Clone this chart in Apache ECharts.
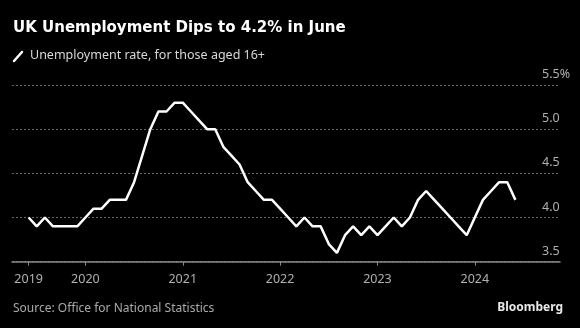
<!DOCTYPE html>
<html>
<head>
<meta charset="utf-8">
<script src="https://cdn.jsdelivr.net/npm/echarts@6/dist/echarts.min.js"></script>
<style>
html,body{margin:0;padding:0;background:#000;}
#chart{width:580px;height:328px;}
</style>
</head>
<body>
<div id="chart"></div>
<script>
// Monthly rolling unemployment rate, Jun 2019 .. Jun 2024
const startMonthIndex = 5; // months since Jan 2019 (June 2019)
const rates = [
  4.0,3.9,4.0,3.9,3.9,3.9,3.9,
  4.0,4.1,4.1,4.2,4.2,4.2,
  4.4,4.7,5.0,5.2,5.2,5.3,5.3,
  5.2,5.1,5.0,5.0,
  4.8,4.7,4.6,4.4,4.3,4.2,4.2,
  4.1,4.0,3.9,4.0,3.9,3.9,
  3.7,3.6,3.8,3.9,3.8,3.9,3.8,3.9,4.0,3.9,
  4.0,4.2,4.3,4.2,4.1,4.0,3.9,3.8,
  4.0,4.2,4.3,4.4,4.4,4.2
];
const tickMonths = [5, 12, 24, 36, 48, 60];
const tickLabels = ['2019', '2020', '2021', '2022', '2023', '2024'];
const yTicks = [3.5, 4.0, 4.5, 5.0, 5.5];

const seriesData = rates.map((v, i) => [startMonthIndex + i, v]);
const labelMap = {};
tickMonths.forEach((m, i) => { labelMap[m] = tickLabels[i]; });

const chart = echarts.init(document.getElementById('chart'), null, {renderer: 'canvas'});
const FONT = 'Noto Sans';
chart.setOption({
  backgroundColor: '#000',
  animation: false,
  grid: {left: 12, right: 20, top: 85, bottom: 66.3, containLabel: false},
  graphic: [
    {type: 'text', style: {x: 13, y: 28, verticalAlign: 'middle', text: 'UK Unemployment Dips to 4.2% in June', fill: '#fff', font: 'bold 15px "DejaVu Sans"'}},
    {type: 'line', shape: {x1: 14, y1: 61, x2: 22, y2: 52}, style: {stroke: '#fff', lineWidth: 2.5, lineCap: 'round'}},
    {type: 'text', style: {x: 30, y: 55, verticalAlign: 'middle', text: 'Unemployment rate, for those aged 16+', fill: '#d8d8d8', font: '12.5px "Noto Sans"'}},
    {type: 'text', style: {x: 13, y: 308.5, verticalAlign: 'middle', text: 'Source: Office for National Statistics', fill: '#aaaaaa', font: '12px "Noto Sans"'}},
    {type: 'text', style: {x: 563, y: 308, align: 'right', verticalAlign: 'middle', text: 'Bloomberg', fill: '#e8e8e8', font: 'bold 12px "Noto Sans"'}}
  ],
  xAxis: {
    type: 'value',
    min: 2.95,
    max: 70.5,
    axisLine: {show: true, lineStyle: {color: '#8a8a8a', width: 1.5}},
    axisTick: {show: true, customValues: tickMonths, length: 4, lineStyle: {color: '#8a8a8a'}},
    axisLabel: {
      customValues: tickMonths,
      formatter: v => labelMap[v] || '',
      color: '#b0b0b0', fontFamily: FONT, fontSize: 12.5, margin: 11
    },
    splitLine: {show: false}
  },
  yAxis: {
    type: 'value',
    position: 'right',
    min: 3.5, max: 5.5, interval: 0.5,
    axisLine: {show: false},
    axisTick: {show: false},
    axisLabel: {
      formatter: v => v === 5.5 ? '5.5%' : v.toFixed(1),
      color: '#b0b0b0', fontFamily: FONT, fontSize: 12.5,
      margin: -18, align: 'left', verticalAlign: 'bottom', padding: [0, 0, 4, 0]
    },
    splitLine: {show: true, lineStyle: {color: '#666', type: [2, 2], width: 1}}
  },
  series: [{
    type: 'line',
    data: seriesData,
    showSymbol: false,
    lineStyle: {color: '#fff', width: 2.5},
    itemStyle: {color: '#fff'}
  }]
});
</script>
</body>
</html>
